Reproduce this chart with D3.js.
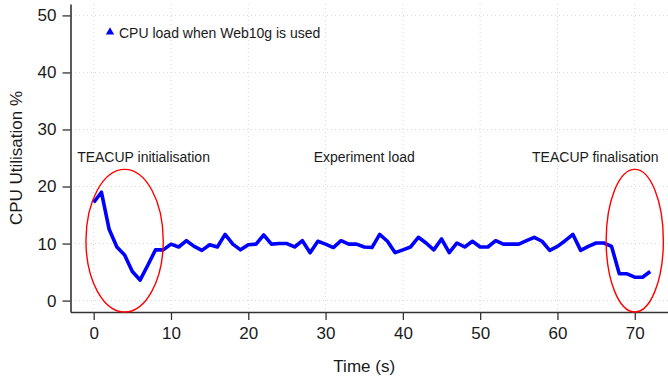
<!DOCTYPE html>
<html lang="en">
	<head>
		<meta charset="utf-8">
		<title>CPU load</title>
		<script type="text/javascript" src="https://cdn.jsdelivr.net/npm/d3@7"></script>
		<style type="text/css">
			body { margin: 0; background: #fff; }
			text { font-family: "Liberation Sans", Arial, sans-serif; fill: #1a1a1a; }
		</style>
	</head>

	<body>
		<script type="text/javascript">
			/* time in seconds and the cpu load read at each second */
			var timeSec = [ 0, 1, 2, 3, 4, 5, 6, 7, 8, 9, 10, 11, 12, 13, 14, 15, 16, 17, 18, 19,
							20, 21, 22, 23, 24, 25, 26, 27, 28, 29, 30, 31, 32, 33, 34, 35, 36, 37, 38, 39,
							40, 41, 42, 43, 44, 45, 46, 47, 48, 49, 50, 51, 52, 53, 54, 55, 56, 57, 58, 59,
							60, 61, 62, 63, 64, 65, 66, 67, 68, 69, 70, 71, 72 ];
			var cpuLoad = [ 17.2, 19.0, 12.5, 9.4, 8.0, 5.1, 3.6, 6.2, 8.9, 8.9,
							9.9, 9.4, 10.5, 9.5, 8.8, 9.8, 9.4, 11.6, 9.9, 8.9,
							9.8, 9.9, 11.5, 9.9, 10.0, 10.0, 9.4, 10.5, 8.4, 10.4,
							9.9, 9.3, 10.5, 9.9, 9.9, 9.4, 9.3, 11.6, 10.4, 8.4,
							8.9, 9.4, 11.1, 10.1, 8.9, 10.8, 8.4, 10.1, 9.4, 10.4,
							9.4, 9.4, 10.5, 9.9, 9.9, 9.9, 10.5, 11.1, 10.4, 8.8,
							9.5, 10.5, 11.6, 8.8, 9.5, 10.1, 10.1, 9.5, 4.7, 4.7,
							4.1, 4.1, 5.1 ];
			var xTicks = [ 0, 10, 20, 30, 40, 50, 60, 70 ];
			var yTicks = [ 0, 10, 20, 30, 40, 50 ];
			var phaseLabels = [ "TEACUP initialisation", "Experiment load", "TEACUP finalisation" ];
			var legendLabel = "CPU load when Web10g is used";

			var svgWidth = 668;
			var svgHeight = 381;

			var svg = d3.select("body")
				.append("svg")
				.attr("width", svgWidth)
				.attr("height", svgHeight);

			var x = d3.scaleLinear().domain([-3, 74.3]).range([70.5, 668]);
			var y = d3.scaleLinear().domain([-2, 52]).range([312, 4]);

			/* dotted grid */
			svg.append("g").selectAll("line.v")
				.data(xTicks).enter().append("line")
				.attr("x1", function(d) { return x(d); })
				.attr("x2", function(d) { return x(d); })
				.attr("y1", 4).attr("y2", 312)
				.attr("stroke", "#d8d8d8").attr("stroke-dasharray", "1,3");
			svg.append("g").selectAll("line.h")
				.data(yTicks).enter().append("line")
				.attr("y1", function(d) { return y(d); })
				.attr("y2", function(d) { return y(d); })
				.attr("x1", 71).attr("x2", 668)
				.attr("stroke", "#d8d8d8").attr("stroke-dasharray", "1,3");

			/* axes */
			var xAxis = svg.append("g")
				.attr("transform", "translate(0,312)")
				.call(d3.axisBottom(x).tickValues(xTicks).tickSize(8).tickSizeOuter(0).tickPadding(7));
			var yAxis = svg.append("g")
				.attr("transform", "translate(70.5,0)")
				.call(d3.axisLeft(y).tickValues(yTicks).tickSize(8).tickSizeOuter(0).tickPadding(6));
			[xAxis, yAxis].forEach(function(a) {
				a.select(".domain").attr("stroke", "#333").attr("stroke-width", 1.6);
				a.selectAll(".tick line").attr("stroke", "#333").attr("stroke-width", 1.3);
				a.selectAll(".tick text").attr("font-size", "17px")
					.attr("font-family", "Liberation Sans, Arial, sans-serif").attr("fill", "#1a1a1a");
			});

			svg.append("text")
				.attr("x", x(35)).attr("y", 372)
				.attr("text-anchor", "middle").attr("font-size", "17px")
				.text("Time (s)");
			svg.append("text")
				.attr("transform", "translate(22," + y(25) + ") rotate(-90)")
				.attr("text-anchor", "middle").attr("font-size", "17px")
				.text("CPU Utilisation %");

			/* the load line */
			var line = d3.line()
				.x(function(d, i) { return x(timeSec[i]); })
				.y(function(d) { return y(d); });
			svg.append("path")
				.datum(cpuLoad)
				.attr("d", line)
				.attr("fill", "none")
				.attr("stroke", "#0000ff")
				.attr("stroke-width", 3.6)
				.attr("stroke-linejoin", "round");

			/* red ellipses around the start and end phases */
			var rings = [ { cx: 4, cy: 10.5, rx: 5, ry: 12.5 }, { cx: 70, cy: 10.5, rx: 3.7, ry: 12.5 } ];
			svg.selectAll("ellipse")
				.data(rings).enter().append("ellipse")
				.attr("cx", function(d) { return x(d.cx); })
				.attr("cy", function(d) { return y(d.cy); })
				.attr("rx", function(d) { return x(d.rx) - x(0); })
				.attr("ry", function(d) { return y(0) - y(d.ry); })
				.attr("fill", "none").attr("stroke", "#ff0000").attr("stroke-width", 1.4);

			/* phase labels */
			var labelAt = [ 6.45, 35, 64.9 ];
			svg.selectAll("text.phase")
				.data(phaseLabels).enter().append("text")
				.attr("class", "phase")
				.attr("x", function(d, i) { return x(labelAt[i]); })
				.attr("y", 162)
				.attr("text-anchor", "middle").attr("font-size", "14px")
				.text(function(d) { return d; });

			/* legend */
			svg.append("path")
				.attr("d", d3.symbol().type(d3.symbolTriangle).size(30))
				.attr("transform", "translate(110,32)")
				.attr("fill", "#0000ff");
			svg.append("text")
				.attr("x", 119).attr("y", 37.5)
				.attr("font-size", "14px")
				.text(legendLabel);
		</script>
	</body>
</html>
